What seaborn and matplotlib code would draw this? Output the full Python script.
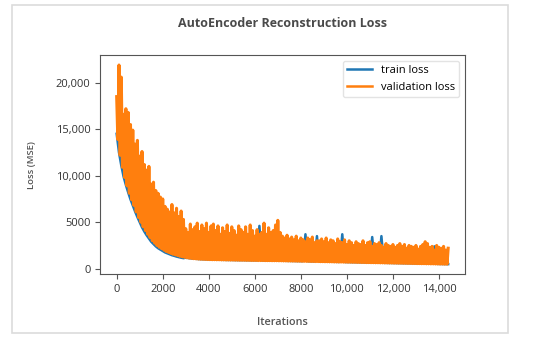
import matplotlib
matplotlib.use("Agg")
import matplotlib.pyplot as plt
import matplotlib.ticker as mticker
from matplotlib.patches import Rectangle
import numpy as np
import pandas as pd
import seaborn as sns

# validation loss: spike tops at iterations 0, 100, 200, ... 14400
val_peaks = [
    18500, 21900, 20600, 16600, 17200, 16800, 15500, 14900, 13400, 13800,
    12100, 12600, 11200, 10600, 11000, 9100, 9300, 8400, 8100, 7700,
    7500, 6700, 6400, 6100, 6900, 6000, 6500, 5600, 6200, 5300,
    4300, 3900, 4800, 4200, 4500, 4900, 4000, 4700, 4300, 4900,
    3900, 4600, 4800, 4100, 4600, 3700, 4400, 4000, 4700, 3800,
    4500, 4100, 3600, 4600, 4200, 3900, 4500, 3700, 4700, 4100,
    3500, 4200, 3700, 3900, 4900, 3700, 4400, 3900, 4100, 4700,
    5200, 3900, 3500, 3300, 3600, 3200, 3400, 3100, 3500, 3000,
    3300, 3100, 2900, 3300, 3100, 3400, 2800, 3000, 3000, 3200,
    2900, 3300, 2800, 3100, 3000, 2700, 3200, 2900, 2800, 3100,
    2600, 3000, 2800, 2500, 2900, 2700, 2600, 3000, 2500, 2800,
    2900, 2400, 2700, 2600, 2800, 2500, 2300, 2700, 2500, 2400,
    2600, 2300, 2500, 2700, 2400, 2600, 2200, 2500, 2400, 2300,
    2500, 2100, 2400, 2600, 2900, 2700, 2300, 2400, 2000, 2500,
    2300, 2200, 2400, 2000, 2200,
]
# validation loss: bottoms at iterations 50, 150, 250, ... 14350
val_troughs = [
    13900, 12200, 10900, 9800, 8900, 8100, 7400, 6800, 6100, 5500,
    5000, 4500, 4100, 3700, 3350, 3000, 2750, 2500, 2300, 2150,
    2000, 1850, 1750, 1650, 1550, 1480, 1400, 1330, 1270, 1220,
    1170, 1130, 1100, 1070, 1050, 1030, 1010, 1000, 990, 980,
    970, 960, 960, 950, 950, 940, 940, 930, 930, 920,
    920, 910, 910, 900, 900, 900, 890, 890, 880, 880,
    880, 870, 870, 870, 860, 860, 860, 850, 850, 850,
    840, 840, 830, 830, 820, 820, 810, 810, 800, 800,
    790, 790, 780, 780, 770, 770, 760, 760, 750, 750,
    740, 740, 730, 730, 720, 720, 710, 710, 700, 700,
    690, 690, 680, 680, 670, 670, 660, 660, 650, 650,
    640, 640, 630, 630, 620, 620, 610, 610, 600, 600,
    590, 590, 580, 580, 570, 570, 560, 560, 550, 550,
    540, 540, 530, 530, 520, 520, 510, 510, 500, 500,
    490, 490, 480, 480,
]
# train loss at iterations 0, 100, 200, ... 14400
train_loss = [
    14500, 12500, 11100, 9900, 9000, 8200, 7450, 6800, 6150, 5550,
    5000, 4450, 4000, 3600, 3250, 2900, 2650, 2400, 2200, 2050,
    1900, 1750, 1650, 1550, 1450, 1380, 1300, 1240, 1180, 1130,
    1180, 1150, 1120, 1090, 1070, 1050, 1030, 1020, 1010, 1000,
    990, 980, 970, 970, 960, 960, 950, 950, 940, 940,
    940, 930, 930, 920, 920, 920, 910, 910, 900, 900,
    900, 890, 4600, 890, 880, 880, 880, 870, 870, 870,
    860, 860, 850, 850, 840, 840, 830, 830, 820, 820,
    810, 810, 3700, 800, 790, 790, 780, 3500, 770, 770,
    760, 760, 750, 750, 740, 740, 730, 730, 3700, 720,
    710, 710, 700, 700, 690, 690, 680, 680, 670, 670,
    660, 3400, 650, 650, 640, 3500, 630, 630, 620, 620,
    610, 610, 600, 600, 590, 590, 580, 580, 570, 570,
    560, 560, 550, 550, 540, 540, 530, 530, 2400, 520,
    510, 510, 500, 500, 490,
]
step = 100

# interleave tops and bottoms of the validation curve
val_x, val_y = [], []
for i, p in enumerate(val_peaks):
    val_x.append(i * step)
    val_y.append(p)
    if i < len(val_troughs):
        val_x.append(i * step + step / 2)
        val_y.append(val_troughs[i])

df_train = pd.DataFrame({"it": np.arange(len(train_loss)) * step, "loss": train_loss})
df_val = pd.DataFrame({"it": val_x, "loss": val_y})

plt.rcParams["font.family"] = ["Open Sans", "DejaVu Sans"]
plt.rcParams["path.simplify"] = False
plt.rcParams["axes.edgecolor"] = "#555555"
plt.rcParams["xtick.color"] = "#555555"
plt.rcParams["ytick.color"] = "#555555"
plt.rcParams["xtick.labelcolor"] = "#333333"
plt.rcParams["ytick.labelcolor"] = "#333333"

fig = plt.figure(figsize=(5.5, 3.44), dpi=100)
ax = fig.add_axes([0.182, 0.203, 0.663, 0.637])

sns.lineplot(data=df_train, x="it", y="loss", ax=ax, color="#1f77b4",
             linewidth=1.8, sort=False, label="train loss")
sns.lineplot(data=df_val, x="it", y="loss", ax=ax, color="#ff7f0e",
             linewidth=2.2, sort=False, label="validation loss")


def fmt(v, pos):
    if abs(v) >= 10000:
        return f"{v:,.0f}"
    return f"{v:.0f}"


ax.xaxis.set_major_formatter(mticker.FuncFormatter(fmt))
ax.yaxis.set_major_formatter(mticker.FuncFormatter(fmt))
ax.set_xticks([0, 2000, 4000, 6000, 8000, 10000, 12000, 14000])
ax.set_yticks([0, 5000, 10000, 15000, 20000])
ax.tick_params(labelsize=8)

ax.set_xlabel("Iterations", fontsize=7.8, color="#555555",
              fontweight="semibold", labelpad=16)
ax.set_ylabel("Loss (MSE)", fontsize=6.8, color="#555555",
              fontweight="semibold", labelpad=14)
fig.text(0.513, 0.933, "AutoEncoder Reconstruction Loss", ha="center",
         va="center", fontsize=9, fontweight="bold", color="#4a4a4a")

leg = ax.legend(loc="upper right", fontsize=8, frameon=True,
                edgecolor="#dddddd", handlelength=2.2)
for ln in leg.get_lines():
    ln.set_linewidth(1.8)

# light frame around the picture
fig.patches.append(Rectangle((12 / 550, 1 - 333 / 344), 496 / 550, 328 / 344,
                             transform=fig.transFigure, fill=False,
                             edgecolor="#dcdcdc", linewidth=1.2))

fig.savefig("out.png", dpi=100)
